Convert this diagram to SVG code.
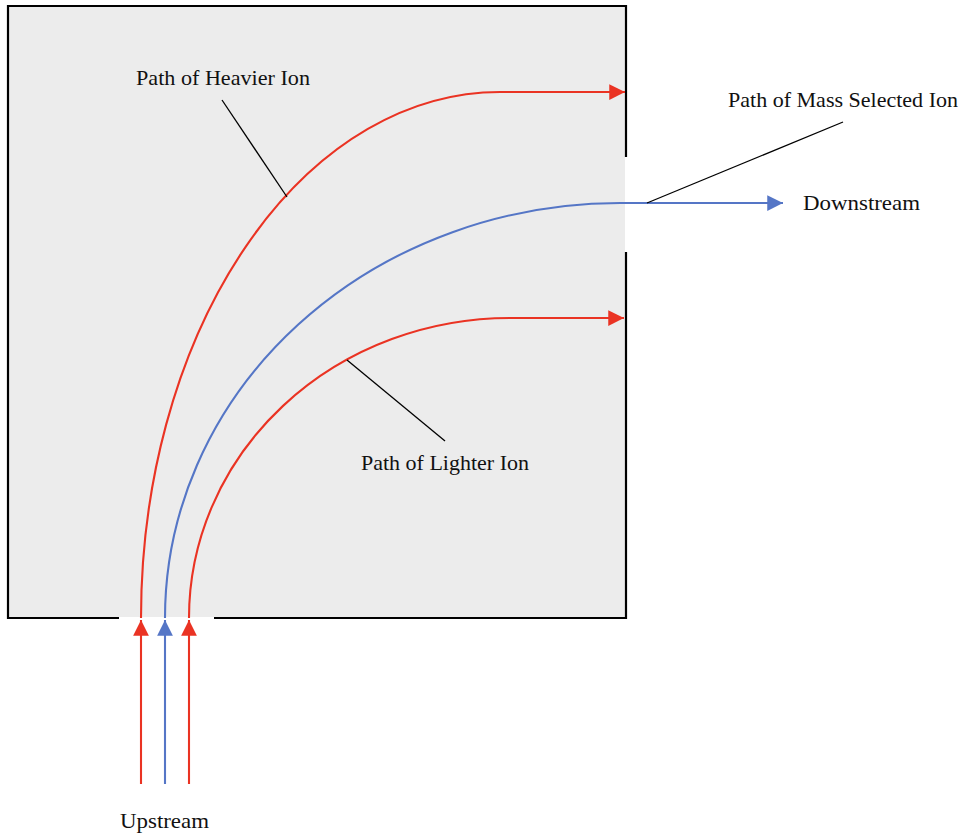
<svg xmlns="http://www.w3.org/2000/svg" width="962" height="834" viewBox="0 0 962 834">
<defs>
<style>
.wall{stroke:#000;stroke-width:2.2;fill:none}
.red{stroke:#ea3323;stroke-width:2.1;fill:none}
.blue{stroke:#5576c6;stroke-width:2.1;fill:none}
.lead{stroke:#000;stroke-width:1.3;fill:none}
text{font-family:"Liberation Serif","DejaVu Serif",serif;font-size:21px;fill:#111}
</style>
<marker id="ar" viewBox="0 0 10 10" refX="10" refY="5" markerWidth="7.5" markerHeight="7.5" markerUnits="strokeWidth" orient="auto"><path d="M0,0 L10,5 L0,10 Z" fill="#ea3323"/></marker>
<marker id="ab" viewBox="0 0 10 10" refX="10" refY="5" markerWidth="8" markerHeight="7.5" markerUnits="strokeWidth" orient="auto"><path d="M0,0 L10,5 L0,10 Z" fill="#5576c6"/></marker>
</defs>
<g id="chamber">
<rect x="8" y="6" width="617" height="611" fill="#ececec"/>
<path class="wall" d="M626,157 L626,6 L8,6 L8,618 L119,618"/>
<path class="wall" d="M214,618 L626,618 L626,252"/>
</g>
<g id="connectors">
<path class="red" d="M141,618 A359,526 0 0 1 500,92 L625,92" marker-end="url(#ar)"/>
<path class="blue" d="M165,618 A455,415 0 0 1 620,203 L783,203" marker-end="url(#ab)"/>
<path class="red" d="M189,618 A321,300 0 0 1 510,318 L624,318" marker-end="url(#ar)"/>
<line class="red" x1="141" y1="784" x2="141" y2="620" marker-end="url(#ar)"/>
<line class="blue" x1="165" y1="784" x2="165" y2="620" marker-end="url(#ab)"/>
<line class="red" x1="189" y1="784" x2="189" y2="620" marker-end="url(#ar)"/>
<line class="lead" x1="222" y1="100" x2="287" y2="197"/>
<line class="lead" x1="843" y1="122" x2="647" y2="203"/>
<line class="lead" x1="347" y1="360" x2="445" y2="441"/>
</g>
<g id="labels">
<text x="136" y="85" textLength="174" lengthAdjust="spacingAndGlyphs">Path of Heavier Ion</text>
<text x="728" y="107" textLength="230" lengthAdjust="spacingAndGlyphs">Path of Mass Selected Ion</text>
<text x="803" y="210" textLength="117" lengthAdjust="spacingAndGlyphs">Downstream</text>
<text x="361" y="470" textLength="168" lengthAdjust="spacingAndGlyphs">Path of Lighter Ion</text>
<text x="120" y="828" textLength="89" lengthAdjust="spacingAndGlyphs">Upstream</text>
</g>
</svg>
